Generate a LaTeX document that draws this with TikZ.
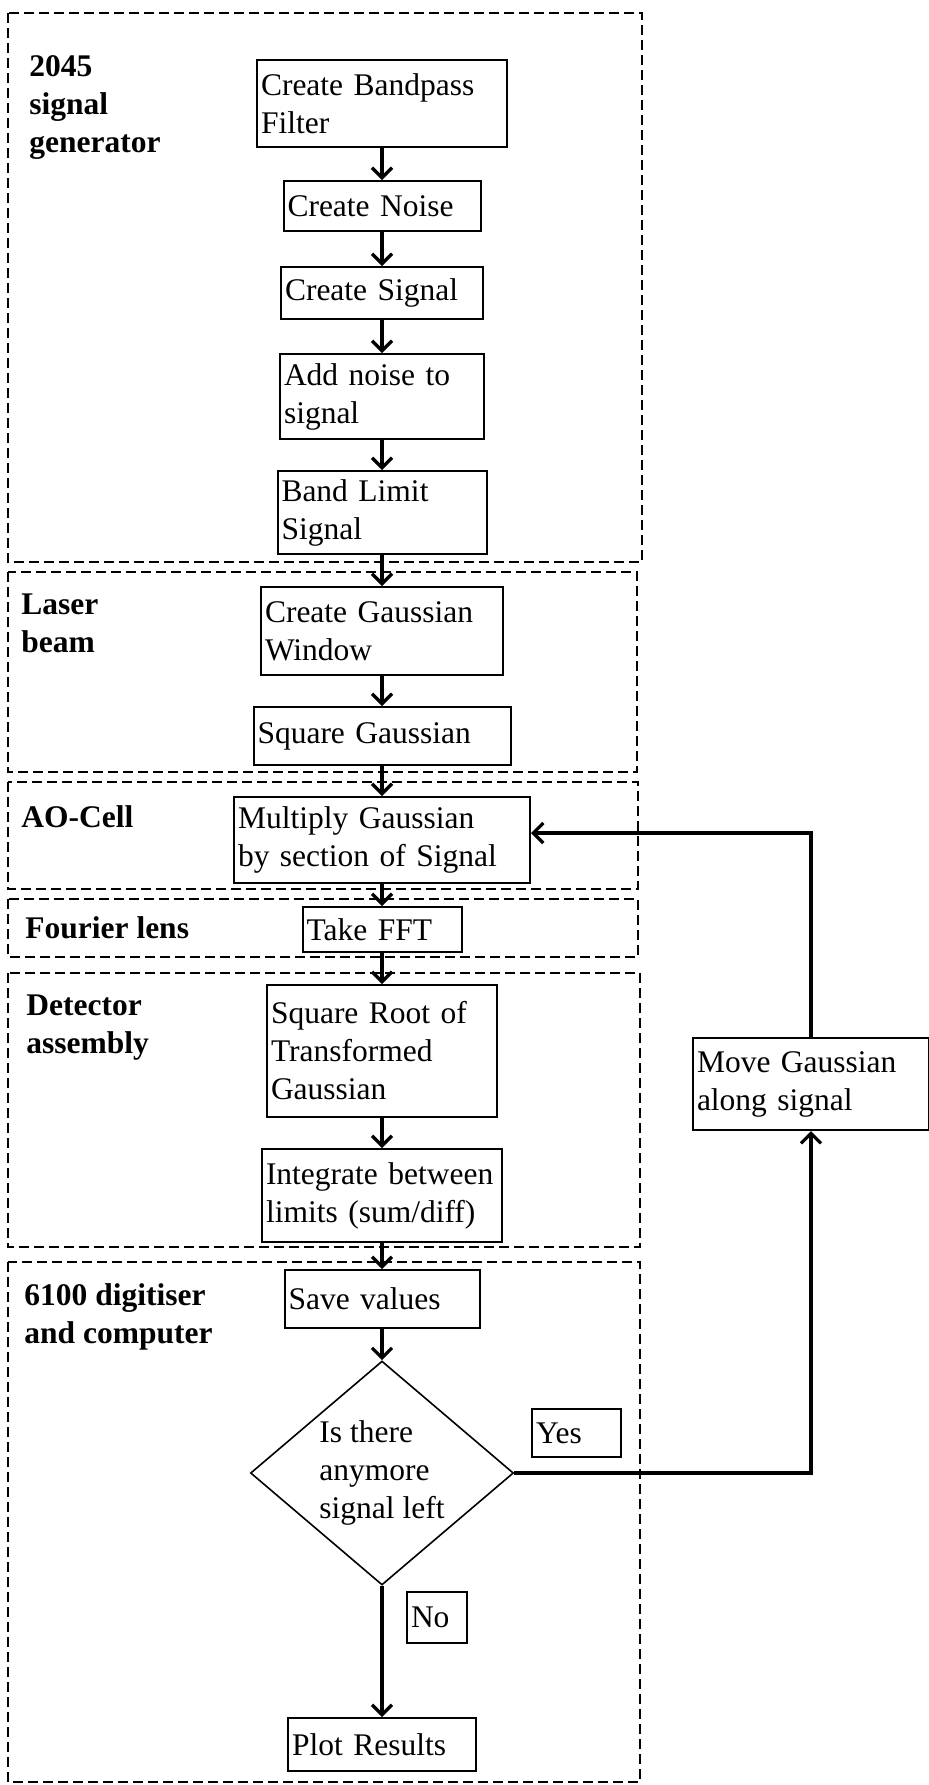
\documentclass[tikz,border=0pt]{standalone}
\usepackage{fontspec}
\setmainfont{Liberation Serif}
\usetikzlibrary{arrows.meta,shapes.geometric}
\begin{document}
\begin{tikzpicture}[x=0.5pt,y=-0.5pt,
  every node/.style={font=\fontsize{15.75}{19}\selectfont},
  pbox/.style={draw,line width=1pt,rectangle,inner xsep=2pt,inner ysep=0pt,align=left,fill=white},
  grp/.style={line width=0.7pt,dash pattern=on 5pt off 2.5pt},
  glabel/.style={anchor=base west,align=left,inner sep=0pt,font=\fontsize{15.75}{19}\selectfont\bfseries},
  flow/.style={line width=1.8pt,-{Straight Barb[length=5pt,width=10pt,line width=1.6pt]}},
]
\fill[white] (0,0) rectangle (929,1785);
\useasboundingbox (0,0) rectangle (929,1785);

% group frames
\draw[grp] (8,13) rectangle (642,562);
\draw[grp] (8,572) rectangle (637,772);
\draw[grp] (8,782) rectangle (638,889);
\draw[grp] (8,899) rectangle (638,957);
\draw[grp] (8,973) rectangle (640,1247);
\draw[grp] (8,1262) rectangle (640,1782);

% group labels (anchored at the baseline of their last line)
\node[glabel] (l1) at (29,152) {2045\\signal\\generator};
\node[glabel] (l2) at (21,652) {Laser\\beam};
\node[glabel] (l3) at (21,827) {AO-Cell};
\node[glabel] (l4) at (25,938) {Fourier lens};
\node[glabel] (l5) at (26,1053) {Detector\\assembly};
\node[glabel] (l6) at (24,1343) {6100 digitiser\\and computer};

% process boxes
\node[pbox,text width=121pt,minimum height=43.5pt] (bandpass) at (382,103.5) {Create Bandpass\\Filter};
\node[pbox,text width=94.5pt,minimum height=25pt] (noise) at (382,206) {Create Noise};
\node[pbox,text width=97pt,minimum height=26pt] (signal) at (382,293) {Create Signal};
\node[pbox,text width=98pt,minimum height=42.5pt] (addnoise) at (382,396.5) {Add noise to\\signal};
\node[pbox,text width=100.5pt,minimum height=41.5pt] (bandlimit) at (382,512.5) {Band Limit\\Signal};
\node[pbox,text width=117pt,minimum height=44pt] (gausswin) at (382,631) {Create Gaussian\\Window};
\node[pbox,text width=124.5pt,minimum height=29pt] (sqgauss) at (382,736) {Square Gaussian};
\node[pbox,text width=144pt,minimum height=43pt] (mult) at (382,840) {Multiply Gaussian\\by section of Signal};
\node[pbox,text width=75.5pt,minimum height=22.5pt] (fft) at (382,929.5) {Take FFT};
\node[pbox,text width=111pt,minimum height=66pt] (sqroot) at (382,1051) {Square Root of\\Transformed\\Gaussian};
\node[pbox,text width=116pt,minimum height=46.5pt] (integ) at (382,1195.5) {Integrate between\\limits (sum/diff)};
\node[pbox,text width=93.5pt,minimum height=29pt] (save) at (382,1299) {Save values};
\node[draw,line width=0.8pt,shape=diamond,aspect=1.17,inner sep=0pt,minimum width=131.5pt,minimum height=112pt,align=left,fill=white] (dia) at (382,1473) {Is there\\anymore\\signal left};
\node[pbox,text width=40.5pt,minimum height=24pt] (yes) at (576.5,1433) {Yes};
\node[pbox,text width=26pt,minimum height=25.5pt] (no) at (437,1617.5) {No};
\node[pbox,text width=90pt,minimum height=26.5pt] (plot) at (382,1744.5) {Plot Results};
\node[pbox,text width=114pt,minimum height=46pt] (move) at (811,1084) {Move Gaussian\\along signal};

% connectors
\draw[flow] (bandpass) -- (noise);
\draw[flow] (noise) -- (signal);
\draw[flow] (signal) -- (addnoise);
\draw[flow] (addnoise) -- (bandlimit);
\draw[flow] (bandlimit) -- (gausswin);
\draw[flow] (gausswin) -- (sqgauss);
\draw[flow] (sqgauss) -- (mult);
\draw[flow] (mult) -- (fft);
\draw[flow] (fft) -- (sqroot);
\draw[flow] (sqroot) -- (integ);
\draw[flow] (integ) -- (save);
\draw[flow] (save) -- (dia.north);
\draw[flow] (dia.south) -- (plot.north);
\draw[flow] (dia.east) -| (move.south);
\draw[flow] (move.north) |- ([yshift=3.5pt]mult.east);
\end{tikzpicture}
\end{document}
